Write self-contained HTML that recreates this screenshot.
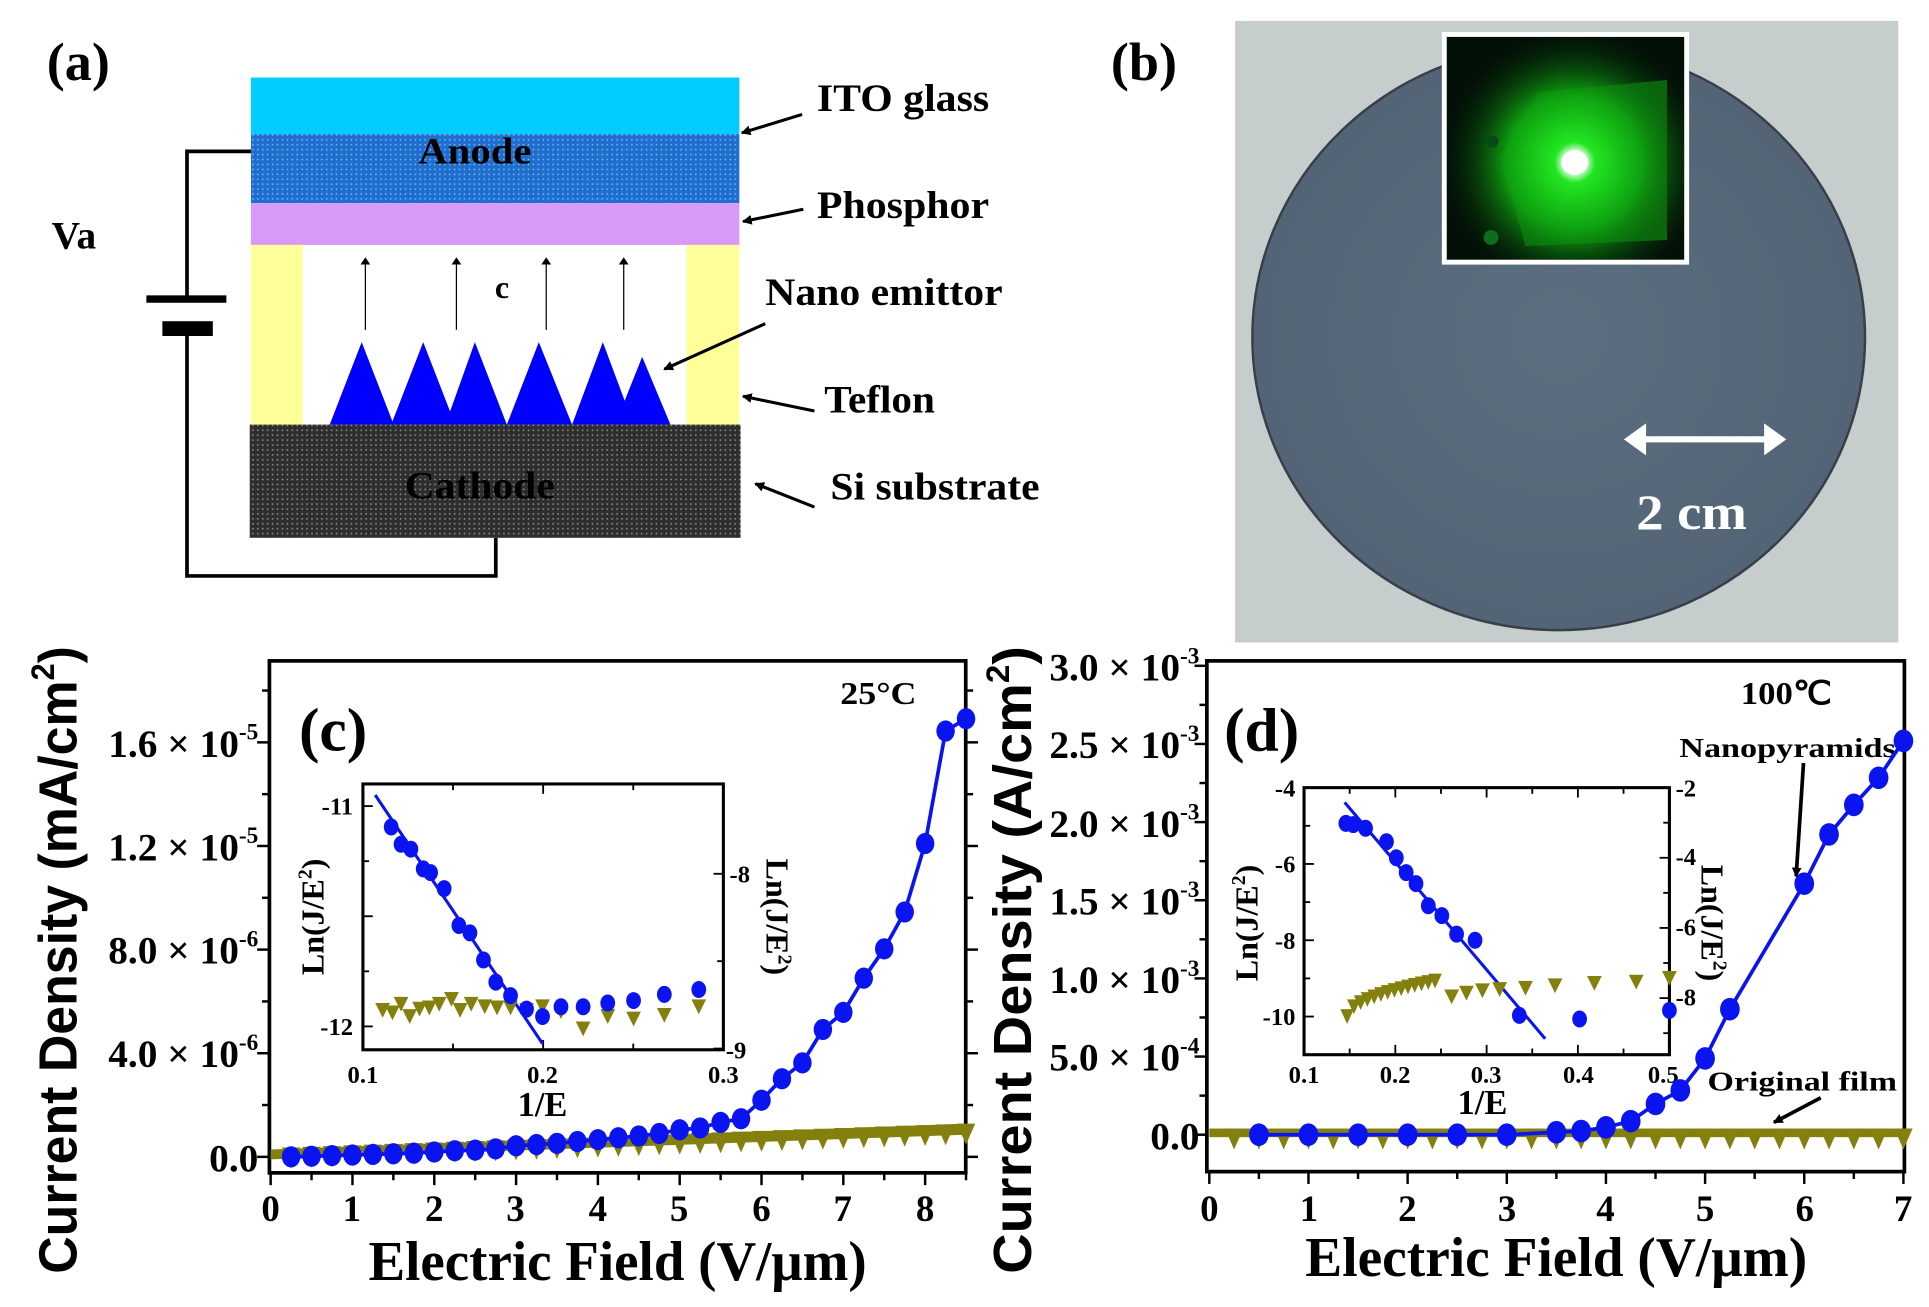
<!DOCTYPE html>
<html><head><meta charset="utf-8"><style>
html,body{margin:0;padding:0;background:#fff;}
svg{display:block;}
text{font-family:"Liberation Serif",serif;font-weight:bold;fill:#000;}
.sans{font-family:"Liberation Sans",sans-serif;}
</style></head><body>
<svg id="s" width="1929" height="1307" viewBox="0 0 1568 1062" preserveAspectRatio="none" xmlns="http://www.w3.org/2000/svg">
<defs>
<pattern id="pa" width="4" height="4" patternUnits="userSpaceOnUse"><rect width="4" height="4" fill="#1d6fcf"/><rect x="1" y="1" width="1.2" height="1.2" fill="#8fb6ea"/></pattern>
<pattern id="pc" width="4" height="4" patternUnits="userSpaceOnUse"><rect width="4" height="4" fill="#2e2e2e"/><rect x="1" y="1" width="1.2" height="1.2" fill="#9a9a9a"/></pattern>
<radialGradient id="glow" cx="1280" cy="132" r="110" gradientUnits="userSpaceOnUse">
<stop offset="0" stop-color="#ffffff"/><stop offset="0.08" stop-color="#e0ffe0"/><stop offset="0.15" stop-color="#22e622"/><stop offset="0.5" stop-color="#0ea010"/><stop offset="1" stop-color="#041a06" stop-opacity="0"/></radialGradient>
<radialGradient id="disk" cx="0.5" cy="0.5" r="0.6"><stop offset="0" stop-color="#5c6f80"/><stop offset="1" stop-color="#506273"/></radialGradient>
<marker id="ah" markerWidth="8" markerHeight="8" refX="7" refY="4" orient="auto" markerUnits="userSpaceOnUse"><path d="M0,0 L8,4 L0,8 z" fill="#000"/></marker>
<marker id="ahs" markerWidth="6" markerHeight="8" refX="5" refY="4" orient="auto" markerUnits="userSpaceOnUse"><path d="M0,0 L6,4 L0,8 z" fill="#000"/></marker>
</defs>

<!-- (a) -->
<text x="38" y="65" font-size="44">(a)</text>
<rect x="204" y="63" width="397" height="46" fill="#00ccff"/>
<rect x="204" y="109" width="397" height="56" fill="url(#pa)"/>
<text x="386" y="133" font-size="30" text-anchor="middle" textLength="92" lengthAdjust="spacingAndGlyphs">Anode</text>
<rect x="204" y="165" width="397" height="34" fill="#d899f8"/>
<rect x="204" y="199" width="42" height="146" fill="#ffff99"/>
<rect x="558" y="199" width="43" height="146" fill="#ffff99"/>
<g fill="#0000ff">
<polygon points="268,345 294,278 320,345"/>
<polygon points="318,345 344,278 370,345"/>
<polygon points="362,345 386,278 412,345"/>
<polygon points="412,345 438,278 465,345"/>
<polygon points="465,345 490,278 515,345"/>
<polygon points="500,345 522,290 545,345"/>
</g>
<g stroke="#000" stroke-width="1" marker-end="url(#ahs)">
<line x1="297" y1="268" x2="297" y2="210"/><line x1="371" y1="268" x2="371" y2="210"/>
<line x1="444" y1="268" x2="444" y2="210"/><line x1="507" y1="268" x2="507" y2="210"/>
</g>
<text x="408" y="242" font-size="26" text-anchor="middle">c</text>
<rect x="203" y="345" width="399" height="92" fill="url(#pc)"/>
<text x="390" y="405" font-size="32" text-anchor="middle" textLength="122" lengthAdjust="spacingAndGlyphs">Cathode</text>
<g stroke="#000" stroke-width="3" fill="none">
<polyline points="204,123 152,123 152,243"/>
<polyline points="152,272 152,468 403,468 403,437"/>
</g>
<rect x="119" y="240" width="65" height="6" fill="#000"/>
<rect x="132" y="261" width="41" height="12" fill="#000"/>
<text x="42" y="202" font-size="32">Va</text>
<text x="664" y="90" font-size="32" textLength="140" lengthAdjust="spacingAndGlyphs">ITO glass</text>
<text x="664" y="177" font-size="32" textLength="140" lengthAdjust="spacingAndGlyphs">Phosphor</text>
<text x="622" y="248" font-size="32" textLength="193" lengthAdjust="spacingAndGlyphs">Nano emittor</text>
<text x="670" y="335" font-size="32" textLength="90" lengthAdjust="spacingAndGlyphs">Teflon</text>
<text x="675" y="406" font-size="32" textLength="170" lengthAdjust="spacingAndGlyphs">Si substrate</text>
<g stroke="#000" stroke-width="2.5" marker-end="url(#ah)">
<line x1="652" y1="93" x2="603" y2="108"/>
<line x1="653" y1="170" x2="604" y2="180"/>
<line x1="622" y1="263" x2="540" y2="300"/>
<line x1="662" y1="334" x2="604" y2="322"/>
<line x1="662" y1="412" x2="614" y2="393"/>
</g>

<!-- (b) -->
<text x="903" y="65" font-size="44">(b)</text>
<rect x="1004" y="17" width="539" height="505" fill="#c5cdcd"/>
<ellipse cx="1267" cy="274" rx="249" ry="238" fill="url(#disk)" stroke="#3a3e48" stroke-width="2"/>
<rect x="1172" y="26" width="201" height="189" fill="#fff"/>
<rect x="1176" y="30" width="193" height="181" fill="#031008"/>
<polygon points="1250,75 1355,65 1355,195 1240,200 1220,130" fill="#10a012" opacity="0.7"/>
<rect x="1176" y="30" width="193" height="181" fill="url(#glow)"/>
<ellipse cx="1280" cy="132" rx="11" ry="10" fill="#fff"/>
<circle cx="1212" cy="193" r="6" fill="#0c6e1c"/>
<circle cx="1213" cy="115" r="5" fill="#0a4a16"/>
<g stroke="#fff" stroke-width="5" fill="#fff">
<line x1="1332" y1="357" x2="1440" y2="357"/>
<polygon points="1320,357 1338,344 1338,370" stroke="none"/>
<polygon points="1452,357 1434,344 1434,370" stroke="none"/>
</g>
<text x="1375" y="430" font-size="40" text-anchor="middle" fill="#fff" style="fill:#fff" textLength="90" lengthAdjust="spacingAndGlyphs">2 cm</text>

<!-- (c) main -->
<rect x="219" y="537" width="566" height="416" fill="none" stroke="#000" stroke-width="3"/>
<text x="243" y="610" font-size="50">(c)</text>
<text x="683" y="572" font-size="26" textLength="62" lengthAdjust="spacingAndGlyphs">25°C</text>
<g font-size="32" text-anchor="end">
<text x="210" y="952">0.0</text>
<text x="210" y="867">4.0 × 10<tspan font-size="19" dy="-14">-6</tspan></text>
<text x="210" y="783">8.0 × 10<tspan font-size="19" dy="-14">-6</tspan></text>
<text x="210" y="699">1.2 × 10<tspan font-size="19" dy="-14">-5</tspan></text>
<text x="210" y="615">1.6 × 10<tspan font-size="19" dy="-14">-5</tspan></text>
</g>
<g font-size="30" text-anchor="middle">
<text x="220" y="992">0</text><text x="286" y="992">1</text><text x="353" y="992">2</text><text x="419" y="992">3</text><text x="486" y="992">4</text><text x="552" y="992">5</text><text x="619" y="992">6</text><text x="685" y="992">7</text><text x="752" y="992">8</text>
</g>
<text x="502" y="1040" font-size="46" text-anchor="middle" textLength="405" lengthAdjust="spacingAndGlyphs">Electric Field (V/μm)</text>
<text class="sans" transform="translate(62,780) rotate(-90)" font-size="44" text-anchor="middle" textLength="510" lengthAdjust="spacingAndGlyphs">Current Density (mA/cm<tspan font-size="26" dy="-18">2</tspan><tspan dy="18">)</tspan></text>

<!-- (c) inset -->
<rect x="295" y="637" width="293" height="216" fill="none" stroke="#000" stroke-width="2.5"/>
<g font-size="20">
<text x="287" y="662" text-anchor="end">-11</text>
<text x="287" y="841" text-anchor="end">-12</text>
<text x="593" y="717">-8</text>
<text x="590" y="860">-9</text>
<text x="295" y="880" text-anchor="middle">0.1</text>
<text x="441" y="880" text-anchor="middle">0.2</text>
<text x="588" y="880" text-anchor="middle">0.3</text>
</g>
<text x="441" y="907" font-size="28" text-anchor="middle">1/E</text>
<text transform="translate(263,745) rotate(-90)" font-size="26" text-anchor="middle">Ln(J/E<tspan font-size="16" dy="-10">2</tspan><tspan dy="10">)</tspan></text>
<text transform="translate(623,745) rotate(90)" font-size="26" text-anchor="middle">Ln(J/E<tspan font-size="16" dy="-10">2</tspan><tspan dy="10">)</tspan></text>

<!-- (d) main -->
<rect x="981" y="537" width="567" height="415" fill="none" stroke="#000" stroke-width="3"/>
<text x="995" y="610" font-size="50">(d)</text>
<text x="1415" y="572" font-size="26" textLength="74" lengthAdjust="spacingAndGlyphs">100℃</text>
<text x="1365" y="615" font-size="22" textLength="176" lengthAdjust="spacingAndGlyphs">Nanopyramids</text>
<text x="1388" y="886" font-size="22" textLength="154" lengthAdjust="spacingAndGlyphs">Original film</text>
<g stroke="#000" stroke-width="3" marker-end="url(#ah)">
<line x1="1466" y1="620" x2="1460" y2="712"/>
<line x1="1480" y1="892" x2="1442" y2="912"/>
</g>
<g font-size="32" text-anchor="end">
<text x="975" y="934">0.0</text>
<text x="975" y="870">5.0 × 10<tspan font-size="19" dy="-14">-4</tspan></text>
<text x="975" y="807">1.0 × 10<tspan font-size="19" dy="-14">-3</tspan></text>
<text x="975" y="743">1.5 × 10<tspan font-size="19" dy="-14">-3</tspan></text>
<text x="975" y="680">2.0 × 10<tspan font-size="19" dy="-14">-3</tspan></text>
<text x="975" y="616">2.5 × 10<tspan font-size="19" dy="-14">-3</tspan></text>
<text x="975" y="553">3.0 × 10<tspan font-size="19" dy="-14">-3</tspan></text>
</g>
<g font-size="30" text-anchor="middle">
<text x="983" y="992">0</text><text x="1064" y="992">1</text><text x="1144" y="992">2</text><text x="1225" y="992">3</text><text x="1305" y="992">4</text><text x="1386" y="992">5</text><text x="1467" y="992">6</text><text x="1547" y="992">7</text>
</g>
<text x="1265" y="1037" font-size="46" text-anchor="middle" textLength="408" lengthAdjust="spacingAndGlyphs">Electric Field (V/μm)</text>
<text class="sans" transform="translate(838,780) rotate(-90)" font-size="44" text-anchor="middle" textLength="510" lengthAdjust="spacingAndGlyphs">Current Density (A/cm<tspan font-size="26" dy="-18">2</tspan><tspan dy="18">)</tspan></text>

<!-- (d) inset -->
<rect x="1060" y="640" width="297" height="217" fill="none" stroke="#000" stroke-width="2.5"/>
<g font-size="20">
<text x="1053" y="647" text-anchor="end">-4</text>
<text x="1053" y="709" text-anchor="end">-6</text>
<text x="1053" y="771" text-anchor="end">-8</text>
<text x="1053" y="833" text-anchor="end">-10</text>
<text x="1362" y="647">-2</text>
<text x="1362" y="703">-4</text>
<text x="1362" y="760">-6</text>
<text x="1362" y="817">-8</text>
<text x="1060" y="880" text-anchor="middle">0.1</text>
<text x="1134" y="880" text-anchor="middle">0.2</text>
<text x="1208" y="880" text-anchor="middle">0.3</text>
<text x="1283" y="880" text-anchor="middle">0.4</text>
<text x="1352" y="880" text-anchor="middle">0.5</text>
</g>
<text x="1205" y="905" font-size="28" text-anchor="middle">1/E</text>
<text transform="translate(1022,750) rotate(-90)" font-size="26" text-anchor="middle">Ln(J/E<tspan font-size="16" dy="-10">2</tspan><tspan dy="10">)</tspan></text>
<text transform="translate(1383,750) rotate(90)" font-size="26" text-anchor="middle">Ln(J/E<tspan font-size="16" dy="-10">2</tspan><tspan dy="10">)</tspan></text>
<g id="dyn"></g>
</svg>
<script>
(function(){
var NS="http://www.w3.org/2000/svg",g=document.getElementById("dyn");
function el(t,a){var e=document.createElementNS(NS,t);for(var k in a)e.setAttribute(k,a[k]);g.appendChild(e);return e;}
function line(x1,y1,x2,y2,w){el("line",{x1:x1,y1:y1,x2:x2,y2:y2,stroke:"#000","stroke-width":w||2});}
var OL="#84800e",BL="#0a14f0";
function tri(x,y,w,h){el("polygon",{points:(x-w/2)+","+y+" "+(x+w/2)+","+y+" "+x+","+(y+h),fill:OL});}
function dot(x,y,r){el("ellipse",{cx:x,cy:y,rx:r,ry:r*1.15,fill:BL});}
var i,x,y;
for(i=0;i<=17;i++){x=220+33.25*i;line(x,953,x,i%2?959:963);}
for(i=0;i<=9;i++){y=940-42.1*i;if(y<537)break;line(219,y,i%2?213:209,y);}
for(i=-1;i<=9;i++){y=940-42.1*i;if(y>953||y<537)continue;line(785,y,i%2?791:795,y);}
for(i=0;i<=14;i++){x=983+40.3*i;line(x,952,x,i%2?958:962);}
for(i=-1;i<=12;i++){y=922-31.75*i;if(y<537||y>952)continue;line(981,y,i%2?975:971,y);}
for(i=0;i<=4;i++){x=295+73.25*i;line(x,853,x,i%2?848:845,1.5);line(x,637,x,i%2?642:645,1.5);}
for(i=0;i<=4;i++){y=655+44.75*i;line(295,y,i%2?300:303,y,1.5);}
for(i=0;i<=3;i++){y=710+71*i;line(588,y,i%2?583:580,y,1.5);}
for(i=0;i<=8;i++){x=1060+37.1*i;line(x,857,x,i%2?852:849,1.5);line(x,640,x,i%2?645:648,1.5);}
for(i=0;i<=7;i++){y=640+31*i;line(1060,y,i%2?1065:1068,y,1.5);}
for(i=0;i<=7;i++){y=640+28.5*i;line(1357,y,i%2?1352:1349,y,1.5);}
el("polygon",{points:"220,934 785,913 785,922 220,942",fill:OL});
for(i=1;i<=34;i++){var v=0.25*i;x=220+66.5*v;y=938-20*(v/8.5);tri(x,y-5,15,17);}
var cyy=[940,939.5,939,938.5,938,937.5,937,936,935,934.5,933.5,931,930,929,927.5,926,924.5,923,921,918,916.5,912,909,894,876.5,863.6,836.5,822.6,794.8,771,741,685.4,594,584];
var pts=[];
for(i=0;i<34;i++)pts.push((220+66.5*0.25*(i+1))+","+cyy[i]);
el("polyline",{points:pts.join(" "),fill:"none",stroke:BL,"stroke-width":3});
for(i=0;i<34;i++)dot(220+66.5*0.25*(i+1),cyy[i],7.5);
var ix=[318,326,334,344,350,361,373,382,393,403,415,428,441,456,474,494,515,540,568],
iy=[672,686,690,706,709,722,752,758,780,798,809,820,826,818,818,815,813,808,804];
el("line",{x1:305,y1:646,x2:441,y2:848,stroke:BL,"stroke-width":2.5});
var tx=[311,319,326,333,341,349,357,367,374,383,394,404,415,428,441,456,474,494,515,540,568],
ty=[821,823,816,826,820,819,816,812,821,816,818,819,819,821,818,822,836,826,828,825,818];
for(i=0;i<tx.length;i++)tri(tx[i],ty[i]-6,12,12);
for(i=0;i<ix.length;i++)dot(ix[i],iy[i],6);
el("rect",{x:983,y:917,width:566,height:7,fill:OL});
for(i=1;i<=28;i++){x=983+80.6*0.25*i;tri(x,917,15,17);}
var dv=[0.5,1,1.5,2,2.5,3,3.5,3.75,4,4.25,4.5,4.75,5,5.25,6,6.25,6.5,6.75,7],
dy=[922,922,922,922,922,922,920,919,916,911,897,886,860,820,718,678,654,632,602];
pts=[];for(i=0;i<dv.length;i++)pts.push((983+80.6*dv[i])+","+dy[i]);
el("polyline",{points:pts.join(" "),fill:"none",stroke:BL,"stroke-width":3});
for(i=0;i<dv.length;i++)dot(983+80.6*dv[i],dy[i],8);
el("line",{x1:1093,y1:652,x2:1256,y2:844,stroke:BL,"stroke-width":2.5});
var ox=[],oy=[];
for(i=0;i<14;i++){ox.push(1095+i*5.5);oy.push(826-Math.sqrt(i)*8);}
var ox2=[1180,1192,1205,1219,1240,1264,1296,1330,1357],oy2=[810,807,805,804,803,801,799,798,795];
for(i=0;i<ox.length;i++)tri(ox[i],oy[i]-6,11,12);
for(i=0;i<ox2.length;i++)tri(ox2[i],oy2[i]-6,12,12);
var qx=[1094,1100,1110,1127,1135,1143,1151,1161,1172,1184,1199,1235,1284,1357],
qy=[669,670,673,684,697,709,718,736,744,759,764,825,828,821];
for(i=0;i<qx.length;i++)dot(qx[i],qy[i],6);
})();
</script>
</body></html>
